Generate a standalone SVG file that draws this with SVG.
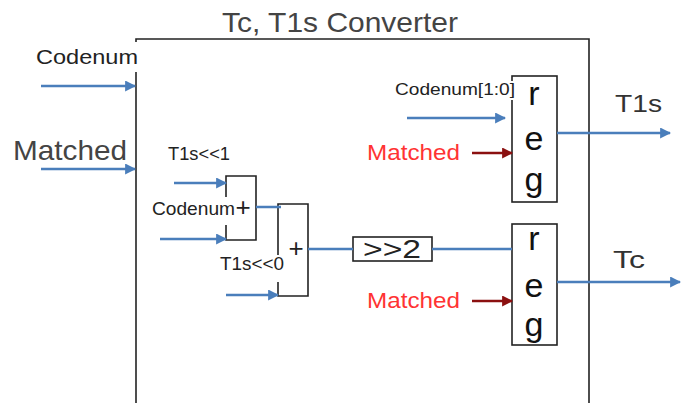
<svg xmlns="http://www.w3.org/2000/svg" width="691" height="403" viewBox="0 0 691 403">
<defs>
<style>
text{font-family:"Liberation Sans","DejaVu Sans",sans-serif;fill:#222}
.box{fill:none;stroke:#222;stroke-width:1.6}
.bl{stroke:#4a7ebb;stroke-width:2.5;fill:none}
.rd{stroke:#8b1010;stroke-width:2.5;fill:none}
.red{fill:#ff3333}
.halo{paint-order:stroke;stroke:#fff;stroke-width:4}
.reg{font-size:34px;text-anchor:middle;fill:#111}
.plus{font-size:26px;text-anchor:middle}
</style>
<marker id="ab" viewBox="0 0 10 10" refX="9" refY="5" markerWidth="4.4" markerHeight="4.4" orient="auto" markerUnits="strokeWidth"><path d="M0,0 L10,5 L0,10 z" fill="#4a7ebb"/></marker>
<marker id="ar" viewBox="0 0 10 10" refX="9" refY="5" markerWidth="4.4" markerHeight="4.4" orient="auto" markerUnits="strokeWidth"><path d="M0,0 L10,5 L0,10 z" fill="#8b1010"/></marker>
</defs>
<rect width="691" height="403" fill="#fff"/>

<g id="converter">
<path class="box" d="M136,42 V39 H589 V403"/>
<path class="box" d="M136,72 V403"/>
<text x="222" y="32" font-size="28" textLength="236" lengthAdjust="spacingAndGlyphs" style="fill:#444">Tc, T1s Converter</text>
</g>

<g id="inputs">
<text x="36" y="64" font-size="21" textLength="102" lengthAdjust="spacingAndGlyphs">Codenum</text>
<text x="13" y="160" font-size="28" textLength="114" lengthAdjust="spacingAndGlyphs" style="fill:#444">Matched</text>
</g>

<g id="adder1">
<path class="box" d="M226,197 V176 H256 V240 H226 V225"/>
<text x="168" y="160" font-size="18" textLength="62" lengthAdjust="spacingAndGlyphs">T1s&lt;&lt;1</text>
<text x="152" y="215" font-size="19" textLength="83" lengthAdjust="spacingAndGlyphs">Codenum</text>
<text class="plus" x="243" y="216">+</text>
</g>

<g id="adder2">
<path class="box" d="M278,255 V204 H308 V296 H278 V282"/>
<text x="220" y="270" font-size="18" textLength="64" lengthAdjust="spacingAndGlyphs">T1s&lt;&lt;0</text>
<text class="plus" x="296" y="257">+</text>
</g>

<g id="shift">
<rect class="box" x="353" y="237" width="79" height="24"/>
<text x="392" y="258" font-size="26" text-anchor="middle" textLength="58" lengthAdjust="spacingAndGlyphs">&gt;&gt;2</text>
</g>

<g id="reg1">
<rect class="box" x="512" y="76" width="45" height="126"/>
<text class="reg" x="534" y="105">r</text>
<text class="reg" x="534" y="150">e</text>
<text class="reg" x="534" y="191">g</text>
<text class="halo" x="395" y="95" font-size="17" textLength="120" lengthAdjust="spacingAndGlyphs">Codenum[1:0]</text>
<text class="red" x="367" y="160" font-size="22" textLength="93" lengthAdjust="spacingAndGlyphs">Matched</text>
<text x="615" y="112" font-size="24" textLength="47" lengthAdjust="spacingAndGlyphs" style="fill:#333">T1s</text>
</g>

<g id="reg2">
<rect class="box" x="512" y="224" width="45" height="121"/>
<text class="reg" x="534" y="250">r</text>
<text class="reg" x="534" y="297">e</text>
<text class="reg" x="534" y="336">g</text>
<text class="red" x="367" y="308" font-size="22" textLength="93" lengthAdjust="spacingAndGlyphs">Matched</text>
<text x="613" y="268" font-size="24" textLength="32" lengthAdjust="spacingAndGlyphs" style="fill:#333">Tc</text>
</g>

<g id="connectors">
<path class="bl" marker-end="url(#ab)" d="M41,86 H135"/>
<path class="bl" marker-end="url(#ab)" d="M41,169 H135"/>
<path class="bl" marker-end="url(#ab)" d="M174,183 H226"/>
<path class="bl" marker-end="url(#ab)" d="M160,239 H226"/>
<path class="bl" d="M256,207 H281"/>
<path class="bl" marker-end="url(#ab)" d="M226,295 H278"/>
<path class="bl" d="M308,249 H353"/>
<path class="bl" d="M432,249 H512"/>
<path class="bl" marker-end="url(#ab)" d="M407,118 H505"/>
<path class="rd" marker-end="url(#ar)" d="M472,153 H512"/>
<path class="rd" marker-end="url(#ar)" d="M472,301 H512"/>
<path class="bl" marker-end="url(#ab)" d="M557,133 H670"/>
<path class="bl" marker-end="url(#ab)" d="M557,282 H680"/>
</g>
</svg>
